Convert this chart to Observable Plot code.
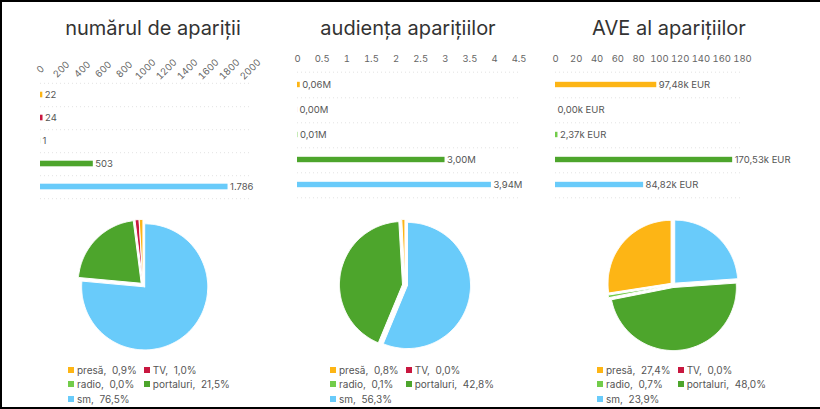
<!DOCTYPE html>
<html><head><meta charset="utf-8">
<script src="https://cdn.jsdelivr.net/npm/d3@7"></script>
<script src="https://cdn.jsdelivr.net/npm/@observablehq/plot@0.6"></script>
<style>
body{margin:0;background:#fff;}
#page{position:relative;width:820px;height:409px;background:#fff;overflow:hidden;font-family:Inter,sans-serif;}
.abs{position:absolute;}
.line{position:absolute;background:#000;}
.title{position:absolute;top:18px;font-size:20px;line-height:20px;color:#333;transform:translateX(-50%);white-space:nowrap;font-weight:400;}
.legend{position:absolute;top:362.5px;display:grid;grid-template-columns:auto auto;column-gap:7px;font-size:10px;color:#555;line-height:14.5px;}
.item{white-space:pre;display:flex;align-items:center;}
.sw{width:6px;height:6px;margin-right:3px;flex:none;}
</style></head>
<body><div id="page"></div>
<script>
const categories = ["presă","TV","radio","portaluri","sm"];
const colors = ["#FDB515","#C8173F","#72CC4A","#4DA52C","#69CBFA"];
const titles = ["numărul de apariții","audiența aparițiilor","AVE al aparițiilor"];
const counts = [22,24,1,503,1786];              // număr apariții
const audience = [0.056,0.001,0.008,2.996,3.938]; // milioane
const ave = [97.48,0,2.37,170.53,84.82];          // mii EUR
const ticks1 = [0,200,400,600,800,1000,1200,1400,1600,1800,2000];
const ticks2 = [0,0.5,1,1.5,2,2.5,3,3.5,4,4.5];
const ticks3 = [0,20,40,60,80,100,120,140,160,180];

const ro = d3.formatLocale({decimal:",", thousands:".", grouping:[3], currency:["",""]});
const fmtCount = ro.format(",d");
const fmtM = d => ro.format(".2f")(d) + "M";
const fmtK = d => ro.format(".2f")(d) + "k EUR";
const fmtPct = d => ro.format(".1f")(d) + "%";

const page = document.getElementById("page");
function place(el, left, top) {
  const w = document.createElement("div");
  w.className = "abs"; w.style.left = left + "px"; w.style.top = top + "px";
  w.appendChild(el); page.appendChild(w); return w;
}

const baseStyle = {fontFamily:"Inter, sans-serif", fontSize:"9.5px", color:"#666", background:"transparent", overflow:"visible"};

function barChart({values, ticks, xmax, left, width, marginLeft, marginRight, marginTop, height, rotate, tickPad, fmt}) {
  const marginBottom = 6;
  const step = (height - marginTop - marginBottom) / categories.length;
  const data = categories.map((c, i) => ({cat: c, v: values[i]}));
  const cross = [];
  for (const t of ticks) for (const c of categories) cross.push({t, cat: c});
  const inset = (step - 6) / 2;
  const svg = Plot.plot({
    width, height, marginLeft, marginRight, marginTop, marginBottom,
    style: baseStyle,
    x: {domain: [0, xmax], axis: null, label: null},
    y: {domain: categories, axis: null, padding: 0, label: null},
    color: {domain: categories, range: colors},
    marks: [
      Plot.gridY(categories, {dy: step / 2, stroke: "#e3e3e3", strokeOpacity: 1, strokeDasharray: "1,3"}),
      Plot.gridY([categories[0]], {dy: -step / 2, stroke: "#e3e3e3", strokeOpacity: 1, strokeDasharray: "1,3"}),
      Plot.ruleX(cross, {x: "t", y: "cat", insetTop: step - 3, dy: 1.5, stroke: "#dedede"}),
      Plot.ruleX(cross.filter(d => d.cat === categories[0]), {x: "t", y: "cat", insetBottom: step - 3, dy: -1.5, stroke: "#dedede"}),
      Plot.axisX({anchor: "top", ticks, tickSize: 0, tickPadding: tickPad, tickRotate: rotate, textAnchor: "middle", lineAnchor: "middle", tickFormat: d => String(d), label: null, fill: "#666"}),
      Plot.barX(data, {x: "v", y: "cat", fill: "cat", insetTop: inset, insetBottom: inset}),
      Plot.text(data, {x: "v", y: "cat", text: d => fmt(d.v), textAnchor: "start", dx: 2, fontSize: 9.5, letterSpacing: -0.2, fill: "#555"})
    ]
  });
  svg.querySelectorAll("text").forEach(t => { if (t.getAttribute("letter-spacing") == null && t.closest("g[letter-spacing]")) {} });
  place(svg, left, 0);
}

function pieChart(values, cx, cy) {
  const R = 63, D = 1.15, size = Math.round(2 * D * R), explode = 0.04;
  const total = d3.sum(values);
  const pts = [];
  let a = 0;
  for (const i of [4, 3, 2, 1, 0]) {
    const a0 = a, a1 = a + values[i] / total * 2 * Math.PI;
    a = a1;
    if (a1 - a0 <= 0) continue;
    const mid = (a0 + a1) / 2, ox = explode * Math.sin(mid), oy = explode * Math.cos(mid);
    const cat = categories[i];
    pts.push({cat, x: ox, y: oy});
    const n = Math.max(2, Math.ceil((a1 - a0) / (Math.PI / 180)));
    for (let k = 0; k <= n; k++) {
      const t = a0 + (a1 - a0) * k / n;
      pts.push({cat, x: ox + Math.sin(t), y: oy + Math.cos(t)});
    }
    pts.push({cat, x: ox, y: oy});
  }
  const svg = Plot.plot({
    width: size, height: size, margin: 0,
    style: baseStyle,
    x: {domain: [-D, D], axis: null},
    y: {domain: [-D, D], axis: null},
    color: {domain: categories, range: colors},
    marks: [Plot.line(pts, {x: "x", y: "y", z: "cat", fill: "cat", stroke: "white", strokeWidth: 1, curve: "linear"})]
  });
  place(svg, cx - size / 2, cy - size / 2);
}

function legend(values, left) {
  const total = d3.sum(values);
  const div = document.createElement("div");
  div.className = "legend"; div.style.left = left + "px";
  categories.forEach((c, i) => {
    const it = document.createElement("div"); it.className = "item";
    const sw = document.createElement("span"); sw.className = "sw"; sw.style.background = colors[i];
    const tx = document.createElement("span"); tx.textContent = c + ",  " + fmtPct(values[i] / total * 100);
    it.appendChild(sw); it.appendChild(tx); div.appendChild(it);
  });
  page.appendChild(div);
}

// titles
[[153, titles[0]], [408, titles[1]], [669, titles[2]]].forEach(([x, t]) => {
  const d = document.createElement("div"); d.className = "title"; d.style.left = x + "px"; d.textContent = t; page.appendChild(d);
});

barChart({values: counts, ticks: ticks1, xmax: 2000, left: 0, width: 280, marginLeft: 40, marginRight: 30, marginTop: 82, height: 205, rotate: -45, tickPad: 13, fmt: fmtCount});
barChart({values: audience, ticks: ticks2, xmax: 4.5, left: 270, width: 270, marginLeft: 27, marginRight: 21.4, marginTop: 70, height: 204, rotate: 0, tickPad: 12, fmt: fmtM});
barChart({values: ave, ticks: ticks3, xmax: 180, left: 540, width: 280, marginLeft: 15, marginRight: 78, marginTop: 70, height: 204, rotate: 0, tickPad: 12, fmt: fmtK});

pieChart(counts, 142, 284);
pieChart(audience, 404, 284);
pieChart(ave, 672, 284);

legend(counts, 68);
legend(audience, 330);
legend(ave, 597);

// frame lines
[[0,0,820,2],[0,0,2,409],[0,407,820,2]].forEach(([l,t,w,h]) => {
  const d = document.createElement("div"); d.className = "line";
  Object.assign(d.style, {left: l + "px", top: t + "px", width: w + "px", height: h + "px"});
  page.appendChild(d);
});
</script></body></html>
